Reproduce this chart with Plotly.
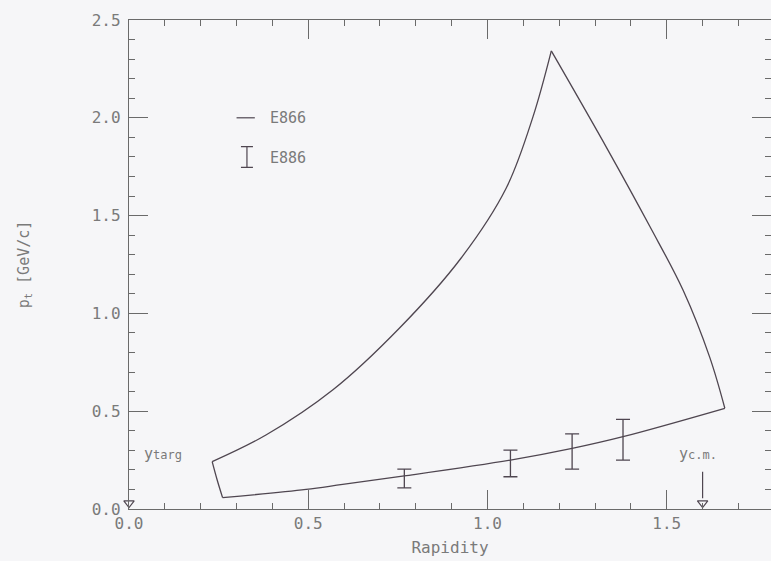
import plotly.graph_objects as go

# ---- data ----
# E866 acceptance boundary, edge by edge
UPPER_X = [0.232, 0.382, 0.568, 0.754, 0.926, 1.052, 1.127, 1.178]
UPPER_Y = [0.242, 0.378, 0.608, 0.924, 1.282, 1.640, 2.006, 2.342]
RIGHT_X = [1.178, 1.336, 1.453, 1.546, 1.620, 1.662]
RIGHT_Y = [2.342, 1.835, 1.444, 1.117, 0.775, 0.515]
LOWER_X = [1.662, 1.378, 1.236, 1.064, 0.768, 0.596, 0.494, 0.261]
LOWER_Y = [0.515, 0.370, 0.310, 0.250, 0.169, 0.126, 0.100, 0.058]
LEFT_X = [0.261, 0.246, 0.232]
LEFT_Y = [0.058, 0.148, 0.242]

# E886 points with error bars
E886_X = [0.768, 1.064, 1.236, 1.378]
E886_Y = [0.156, 0.233, 0.294, 0.354]
E886_ERR = [0.048, 0.068, 0.090, 0.104]

Y_TARG = 0.0
Y_CM = 1.6

X_TICKS = [0.0, 0.5, 1.0, 1.5]
Y_TICKS = [0.0, 0.5, 1.0, 1.5, 2.0, 2.5]

# ---- style ----
LINE = "#4f4650"
AXIS = "#6a6a6a"
TXT = "#7a7a7a"
BG = "#f6f6f8"
FONT = "DejaVu Sans Mono"

fig = go.Figure()

for xs, ys in [(UPPER_X, UPPER_Y), (RIGHT_X, RIGHT_Y), (LOWER_X, LOWER_Y), (LEFT_X, LEFT_Y)]:
    fig.add_trace(go.Scatter(x=xs, y=ys, mode="lines",
                             line=dict(color=LINE, width=1.3, shape="spline", smoothing=1.0),
                             showlegend=False, hoverinfo="skip"))

fig.add_trace(go.Scatter(x=E886_X, y=E886_Y, mode="markers",
                         marker=dict(size=1, color="rgba(0,0,0,0)"),
                         error_y=dict(type="data", array=E886_ERR, color=LINE, thickness=1.3, width=7),
                         showlegend=False, hoverinfo="skip"))

# arrows for y_targ and y_c.m.
fig.add_trace(go.Scatter(x=[Y_CM, Y_CM], y=[0.19, 0.055], mode="lines",
                         line=dict(color=LINE, width=1.2), showlegend=False, hoverinfo="skip"))
fig.add_trace(go.Scatter(x=[Y_TARG, Y_CM], y=[0.03, 0.03], mode="markers",
                         marker=dict(symbol="triangle-down-open", size=9, color=LINE,
                                     line=dict(width=1.2, color=LINE)),
                         showlegend=False, hoverinfo="skip", cliponaxis=False))

# legend (drawn by hand)
fig.add_trace(go.Scatter(x=[0.30, 0.351], y=[2.0, 2.0], mode="lines",
                         line=dict(color=LINE, width=1.2), showlegend=False, hoverinfo="skip"))
fig.add_trace(go.Scatter(x=[0.329], y=[1.80], mode="markers",
                         marker=dict(size=1, color="rgba(0,0,0,0)"),
                         error_y=dict(type="constant", value=0.053, color=LINE, thickness=1.2, width=6),
                         showlegend=False, hoverinfo="skip"))

# invisible trace so the right-hand tick axis is drawn
fig.add_trace(go.Scatter(x=[0], y=[0], yaxis="y2", mode="markers",
                         marker=dict(size=1, color="rgba(0,0,0,0)"),
                         showlegend=False, hoverinfo="skip"))

annots = [
    dict(x=0.388, y=2.0, text="E866", xanchor="left"),
    dict(x=0.388, y=1.796, text="E886", xanchor="left"),
    dict(x=0.035, y=0.28, text="y<span style='font-size:12px'>targ</span>", xanchor="left"),
    dict(x=Y_CM - 0.012, y=0.28, text="y<span style='font-size:12px'>c.m.</span>", xanchor="center"),
]
for a in annots:
    fig.add_annotation(x=a["x"], y=a["y"], text=a["text"], xanchor=a["xanchor"], yanchor="middle",
                       showarrow=False, font=dict(family=FONT, size=15, color=TXT))

X_MAX = (771 - 129) / 358.5

fig.update_layout(
    width=771, height=561,
    margin=dict(l=129, r=0, t=20, b=52),
    paper_bgcolor=BG, plot_bgcolor=BG,
    font=dict(family=FONT, size=16, color=TXT),
    xaxis=dict(range=[0, X_MAX], tickvals=X_TICKS, tickformat=".1f",
               ticks="inside", ticklen=19, tickwidth=1.2, tickcolor=AXIS,
               minor=dict(dtick=0.1, ticks="inside", ticklen=6, tickwidth=1.2, tickcolor=AXIS, showgrid=False),
               showline=True, linecolor=AXIS, linewidth=1.3, mirror="ticks",
               showgrid=False, zeroline=False,
               title=dict(text="Rapidity", standoff=9, font=dict(size=16, color=TXT)),
               tickfont=dict(size=16, color=TXT)),
    yaxis=dict(range=[0, 2.5], tickvals=Y_TICKS, tickformat=".1f",
               ticks="inside", ticklen=19, tickwidth=1.2, tickcolor=AXIS,
               minor=dict(dtick=0.1, ticks="inside", ticklen=6, tickwidth=1.2, tickcolor=AXIS, showgrid=False),
               showline=True, linecolor=AXIS, linewidth=1.3,
               showgrid=False, zeroline=False, ticklabelstandoff=4,
               title=dict(text="p<sub>t</sub> [GeV/c]", standoff=58, font=dict(size=15, color=TXT)),
               tickfont=dict(size=16, color=TXT)),
    yaxis2=dict(range=[0, 2.5], overlaying="y", side="right", tickvals=Y_TICKS,
                showticklabels=False, ticks="inside", ticklen=19, tickwidth=1.2, tickcolor=AXIS,
                minor=dict(dtick=0.1, ticks="inside", ticklen=6, tickwidth=1.2, tickcolor=AXIS, showgrid=False),
                showline=False, showgrid=False, zeroline=False),
)

fig.write_html("out.html")
